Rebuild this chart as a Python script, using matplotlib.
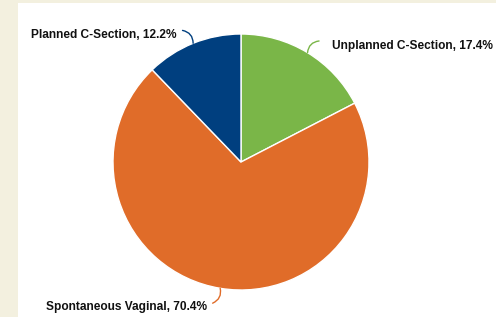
import numpy as np
import matplotlib
matplotlib.use("Agg")
import matplotlib.pyplot as plt
from matplotlib.patches import Rectangle

# data
categories = ["Unplanned C-Section", "Spontaneous Vaginal", "Planned C-Section"]
shares = [17.4, 70.4, 12.2]
colors = ["#7ab648", "#e06c29", "#003f7f"]

W, H = 496, 317
cx, cy, R = 241, H - 162, 128

fig = plt.figure(figsize=(W / 100, H / 100), dpi=100)
fig.patch.set_facecolor("#f3f0df")
ax = fig.add_axes([0, 0, 1, 1])

ax.add_patch(Rectangle((18, 0), W - 18, H - 3, facecolor="white", edgecolor="none", zorder=0))

wedges, _ = ax.pie(shares, colors=colors, startangle=90, counterclock=False,
                   center=(cx, cy), radius=R,
                   wedgeprops=dict(edgecolor="white", linewidth=1.0))

# label placement: (leader end angle tweak, text dx, text dy, ha, leader curvature)
label_style = {
    "Unplanned C-Section": (-1.5, 13, -5, "left", 0.4),
    "Spontaneous Vaginal": (-2.0, -6, -4, "right", 0.4),
    "Planned C-Section": (2.0, -6, -5, "right", -0.4),
}

for w, name, val, col in zip(wedges, categories, shares, colors):
    mid_deg = (w.theta1 + w.theta2) / 2
    tw, dx, dy, ha, rad = label_style[name]
    a0, a1 = np.deg2rad(mid_deg), np.deg2rad(mid_deg + tw)
    x0, y0 = cx + R * np.cos(a0), cy + R * np.sin(a0)
    x1, y1 = cx + 1.125 * R * np.cos(a1), cy + 1.125 * R * np.sin(a1)
    ax.annotate("", xy=(x0, y0), xytext=(x1, y1),
                arrowprops=dict(arrowstyle="-", color=col, lw=1.0,
                                shrinkA=0, shrinkB=0,
                                connectionstyle=f"arc3,rad={rad}"))
    ax.text(x1 + dx, y1 + dy, f"{name}, {val}%", ha=ha, va="center",
            fontsize=8.6, fontweight="bold", family="Liberation Sans", color="#111111")

ax.set_xlim(0, W)
ax.set_ylim(0, H)
ax.set_aspect("equal")
ax.axis("off")

fig.savefig("out.png", dpi=100)
